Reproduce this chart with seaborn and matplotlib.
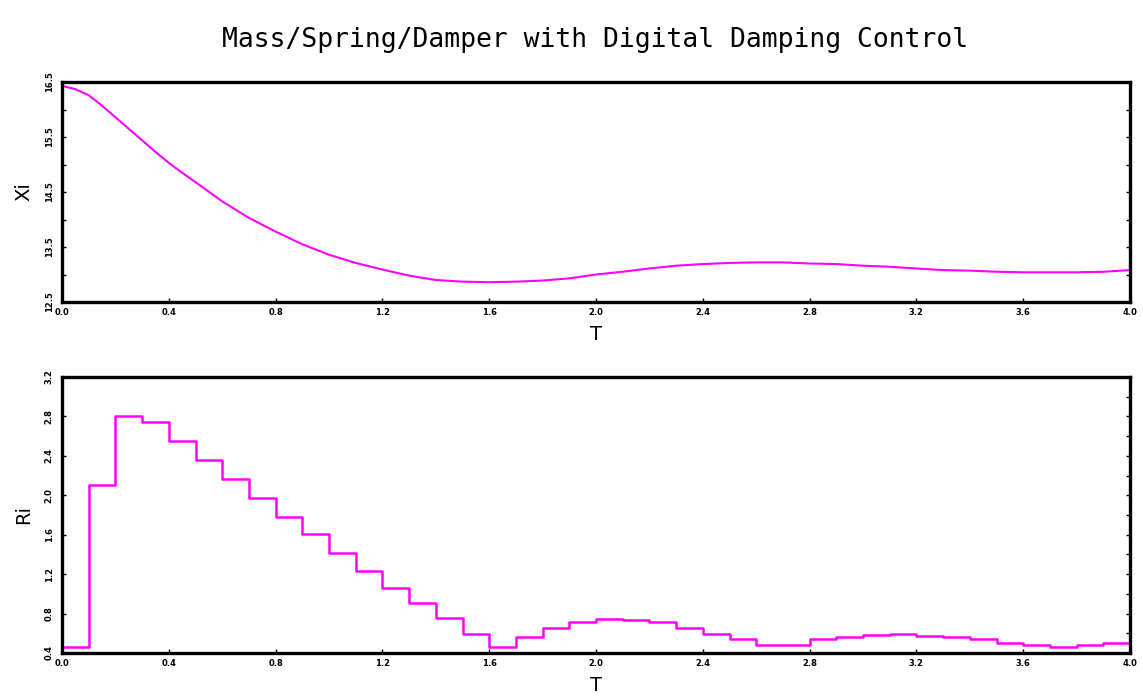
import numpy as np
import pandas as pd
import matplotlib
matplotlib.use("Agg")
import matplotlib.pyplot as plt
from matplotlib.ticker import MultipleLocator, FixedLocator
import seaborn as sns

# ---- data ----
T_XI = [0.0, 0.05, 0.1, 0.15, 0.2, 0.25, 0.3, 0.35, 0.4, 0.45, 0.5, 0.6, 0.7, 0.8, 0.9,
        1.0, 1.1, 1.2, 1.3, 1.4, 1.5, 1.6, 1.7, 1.8, 1.9,
        2.0, 2.1, 2.2, 2.3, 2.4, 2.5, 2.6, 2.7, 2.8, 2.9,
        3.0, 3.1, 3.2, 3.3, 3.4, 3.5, 3.6, 3.7, 3.8, 3.9, 4.0]
XI = [16.43, 16.37, 16.26, 16.07, 15.86, 15.65, 15.44, 15.23, 15.03, 14.85, 14.68,
      14.33, 14.03, 13.78, 13.55,
      13.36, 13.21, 13.09, 12.98, 12.90, 12.87, 12.86, 12.87, 12.89, 12.93,
      13.00, 13.05, 13.11, 13.16, 13.19, 13.21, 13.22, 13.22, 13.20, 13.19,
      13.16, 13.14, 13.11, 13.08, 13.07, 13.05, 13.04, 13.04, 13.04, 13.05, 13.08]

T_RI = [0.0, 0.1, 0.2, 0.3, 0.4, 0.5, 0.6, 0.7, 0.8, 0.9,
        1.0, 1.1, 1.2, 1.3, 1.4, 1.5, 1.6, 1.7, 1.8, 1.9,
        2.0, 2.1, 2.2, 2.3, 2.4, 2.5, 2.6, 2.7, 2.8, 2.9,
        3.0, 3.1, 3.2, 3.3, 3.4, 3.5, 3.6, 3.7, 3.8, 3.9]
RI = [0.457, 2.106, 2.805, 2.748, 2.555, 2.360, 2.167, 1.971, 1.775, 1.606,
      1.410, 1.234, 1.059, 0.903, 0.751, 0.593, 0.457, 0.559, 0.653, 0.715,
      0.750, 0.735, 0.715, 0.655, 0.595, 0.540, 0.480, 0.480, 0.540, 0.560,
      0.578, 0.595, 0.575, 0.558, 0.540, 0.497, 0.480, 0.460, 0.480, 0.500]
T_END = 4.0

X_TICKS = [0.0, 0.4, 0.8, 1.2, 1.6, 2.0, 2.4, 2.8, 3.2, 3.6, 4.0]
XI_TICKS = [12.5, 13.5, 14.5, 15.5, 16.5]
RI_TICKS = [0.4, 0.8, 1.2, 1.6, 2.0, 2.4, 2.8, 3.2]

TITLE = "Mass/Spring/Damper with Digital Damping Control"

sns.set_style("white")
plt.rcParams["font.family"] = ["DejaVu Sans"]
plt.rcParams["text.color"] = "black"
plt.rcParams["axes.labelcolor"] = "black"
plt.rcParams["xtick.color"] = "black"
plt.rcParams["ytick.color"] = "black"

MAGENTA = "#FF00FF"

fig = plt.figure(figsize=(11.43, 6.98), dpi=100)
ax1 = fig.add_axes([62/1143, 1-302/698, (1130-62)/1143, (302-82)/698])
ax2 = fig.add_axes([62/1143, 1-653/698, (1130-62)/1143, (653-377)/698])

df_xi = pd.DataFrame({"T": T_XI, "Xi": XI})
sns.lineplot(data=df_xi, x="T", y="Xi", ax=ax1, color=MAGENTA, linewidth=1.5)

df_ri = pd.DataFrame({"T": T_RI + [T_END], "Ri": RI + [RI[-1]]})
sns.lineplot(data=df_ri, x="T", y="Ri", ax=ax2, color=MAGENTA, linewidth=1.8,
             drawstyle="steps-post")

def style(ax, yticks, ylim, ylabel, minor_left, minor_right, ystep_minor):
    ax.set_xlim(0, 4.0)
    ax.set_ylim(*ylim)
    ax.xaxis.set_major_locator(FixedLocator(X_TICKS))
    ax.set_xticklabels([f"{v:.1f}" for v in X_TICKS])
    ax.yaxis.set_major_locator(FixedLocator(yticks))
    ax.set_yticklabels([f"{v:.1f}" for v in yticks], rotation=90, va="center")
    ax.yaxis.set_minor_locator(MultipleLocator(ystep_minor))
    for s in ax.spines.values():
        s.set_linewidth(2.4)
        s.set_color("black")
    ax.tick_params(axis="x", which="major", direction="in", length=3, width=1,
                   bottom=True, top=False, labelsize=6, pad=4, colors="black")
    ax.tick_params(axis="y", which="major", direction="in", length=3, width=1,
                   left=True, right=True, labelsize=6, pad=6, colors="black")
    ax.tick_params(axis="y", which="minor", direction="in", length=3, width=1,
                   left=minor_left, right=minor_right, colors="black")
    for lab in ax.get_xticklabels() + ax.get_yticklabels():
        lab.set_fontweight("bold")
    ax.set_xlabel("T", fontsize=14, labelpad=6, color="black")
    ax.set_ylabel(ylabel, fontsize=14, labelpad=8, color="black")
    ax.grid(False)

style(ax1, XI_TICKS, (12.5, 16.5), "Xi", True, True, 0.5)
style(ax2, RI_TICKS, (0.4, 3.2), "Ri", False, True, 0.2)

fig.text(595/1143, 1-40/698, TITLE, ha="center", va="center", fontsize=19,
         family=["DejaVu Sans Mono"], color="black")

fig.savefig("out.png", dpi=100, facecolor="white")
